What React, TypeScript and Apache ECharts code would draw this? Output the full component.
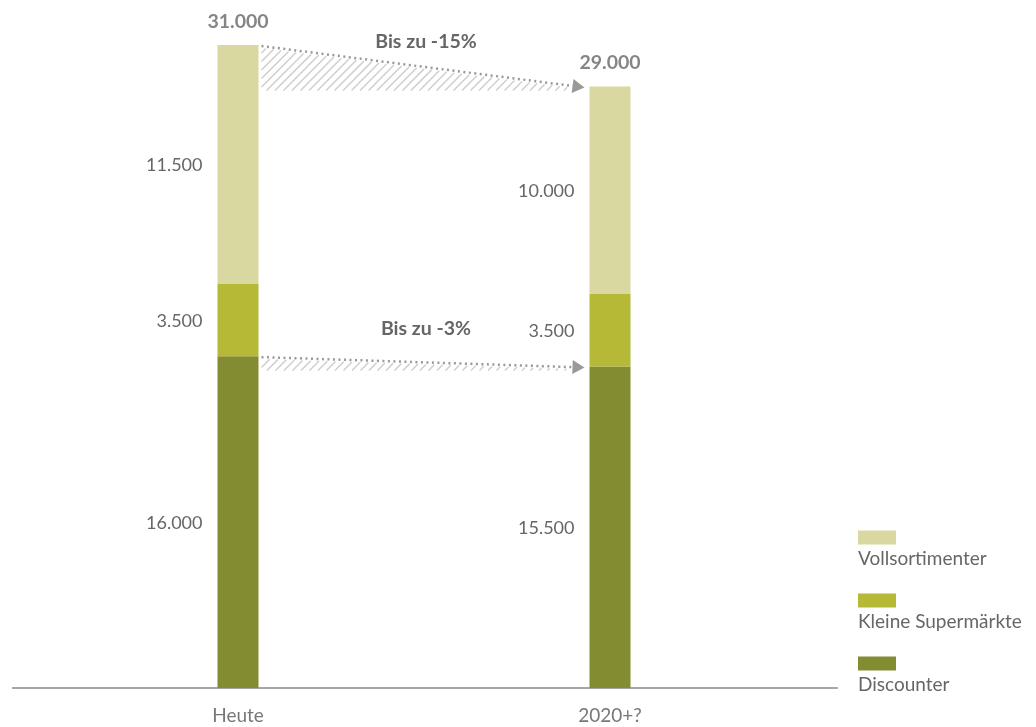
import React, { useEffect, useRef } from "react";
import * as echarts from "echarts";

const categories = ["Heute", "2020+?"];
const discounter = [16000, 15500];
const kleineSupermaerkte = [3500, 3500];
const vollsortimenter = [11500, 10000];
const totals = [31000, 29000];
const seriesNames = ["Vollsortimenter", "Kleine Supermärkte", "Discounter"];
const seriesColors = ["#d9d8a0", "#b5b935", "#838c31"];
const arrowLabels = ["Bis zu -15%", "Bis zu -3%"];

const FONT = "Lato";
const fmt = (v: number) => String(v).replace(/\B(?=(\d{3})+(?!\d))/g, ".");

const BAR_W = 41;

export default function App() {
  const ref = useRef<HTMLDivElement>(null);
  useEffect(() => {
    if (!ref.current) return;
    const chart = echarts.init(ref.current, null, { renderer: "svg" });
    const segLabel = {
      show: true,
      position: "left",
      distance: 15,
      fontFamily: FONT,
      fontSize: 18,
      color: "#666",
      formatter: (p: any) => fmt(p.value),
    };
    const option: any = {
      animation: false,
      textStyle: { fontFamily: FONT },
      grid: { left: 52, right: 240, top: 45, bottom: 39 },
      xAxis: {
        type: "category",
        data: categories,
        axisLine: { show: false },
        axisTick: { show: false },
        axisLabel: { fontFamily: FONT, fontSize: 19, color: "#777", margin: 17 },
      },
      yAxis: { type: "value", min: 0, max: 31000, show: false },
      legend: {
        data: seriesNames,
        orient: "vertical",
        left: 858,
        top: 526,
        padding: 0,
        itemWidth: 38,
        itemHeight: 14,
        itemGap: 22,
        icon: "rect",
        selectedMode: false,
        formatter: (name: string) => `{gap| }\n{t|${name}}`,
        textStyle: {
          fontFamily: FONT,
          fontSize: 19,
          color: "#666",
          padding: [0, 0, 0, -43],
          rich: {
            gap: { fontSize: 1, lineHeight: 40 },
            t: { fontFamily: FONT, fontSize: 19, color: "#666", lineHeight: 22 },
          },
        },
      },
      series: [
        {
          name: "Discounter",
          type: "bar",
          stack: "total",
          barWidth: BAR_W,
          data: discounter,
          itemStyle: { color: seriesColors[2] },
          label: segLabel,
        },
        {
          name: "Kleine Supermärkte",
          type: "bar",
          stack: "total",
          barWidth: BAR_W,
          data: kleineSupermaerkte,
          itemStyle: { color: seriesColors[1] },
          label: segLabel,
        },
        {
          name: "Vollsortimenter",
          type: "bar",
          stack: "total",
          barWidth: BAR_W,
          data: vollsortimenter,
          itemStyle: { color: seriesColors[0] },
          label: segLabel,
        },
        {
          name: "Gesamt",
          type: "scatter",
          data: totals,
          symbol: "rect",
          symbolSize: 1,
          silent: true,
          itemStyle: { color: "rgba(0,0,0,0)" },
          label: {
            show: true,
            position: "top",
            distance: 14,
            fontFamily: FONT,
            fontSize: 19.5,
            fontWeight: "bold",
            color: "#666",
            formatter: (p: any) => fmt(p.value),
          },
        },
      ],
    };
    chart.setOption(option);

    const px = (i: number, v: number) =>
      chart.convertToPixel({ gridIndex: 0 }, [i, v]) as number[];

    const elements: any[] = [];
    // baseline
    const base = px(0, 0);
    elements.push({
      type: "line",
      shape: { x1: 12, y1: base[1], x2: 838, y2: base[1] },
      style: { stroke: "#a6a6a6", lineWidth: 2 },
      silent: true,
    });

    const arrowDefs = [
      { from: totals[0], to: totals[1], label: arrowLabels[0], labelDy: -6 },
      { from: discounter[0], to: discounter[1], label: arrowLabels[1], labelDy: -30 },
    ];

    const clipLine = (poly: number[][], c: number) => {
      const pts: number[][] = [];
      for (let k = 0; k < poly.length; k++) {
        const P = poly[k];
        const Q = poly[(k + 1) % poly.length];
        const fP = P[0] + P[1] - c;
        const fQ = Q[0] + Q[1] - c;
        if ((fP <= 0 && fQ > 0) || (fP > 0 && fQ <= 0)) {
          const t = fP / (fP - fQ);
          pts.push([P[0] + t * (Q[0] - P[0]), P[1] + t * (Q[1] - P[1])]);
        }
      }
      if (pts.length < 2) return null;
      pts.sort((a, b) => a[0] - b[0]);
      return [pts[0], pts[pts.length - 1]];
    };

    arrowDefs.forEach((a) => {
      const p0 = px(0, a.from);
      const p1 = px(1, a.to);
      const sx = p0[0] + BAR_W / 2 + 3;
      const sy = p0[1] + 1;
      const tx = p1[0] - BAR_W / 2 - 5;
      const ty = p1[1] + 1;
      const dx = tx - sx;
      const dy = ty - sy;
      const len = Math.sqrt(dx * dx + dy * dy);
      const ux = dx / len;
      const uy = dy / len;
      const headLen = 12;
      const headHalf = 7;
      const bx = tx - ux * headLen;
      const by = ty - uy * headLen;

      // hatch area
      const lineY = (x: number) => sy + ((x - sx) * dy) / dx;
      const yb = ty + 3;
      let xb = tx - 15;
      if (dy > 0 && lineY(xb) > yb) {
        xb = sx + ((yb - sy) * dx) / dy;
      }
      const poly = [
        [sx, sy + 2],
        [xb, lineY(xb) + 2],
        [xb, yb],
        [sx, yb],
      ];
      let cMin = Infinity;
      let cMax = -Infinity;
      poly.forEach((p) => {
        cMin = Math.min(cMin, p[0] + p[1]);
        cMax = Math.max(cMax, p[0] + p[1]);
      });
      const step = 8.5;
      for (let c = Math.ceil(cMin / step) * step; c <= cMax; c += step) {
        const seg = clipLine(poly, c);
        if (!seg) continue;
        elements.push({
          type: "line",
          silent: true,
          shape: { x1: seg[0][0], y1: seg[0][1], x2: seg[1][0], y2: seg[1][1] },
          style: { stroke: "#cfcfcf", lineWidth: 1.5 },
        });
      }

      // dotted line
      elements.push({
        type: "line",
        silent: true,
        shape: { x1: sx, y1: sy, x2: bx, y2: by },
        style: { stroke: "#999", lineWidth: 2.5, lineDash: [2, 3.5] },
      });
      // arrow head
      elements.push({
        type: "polygon",
        silent: true,
        shape: {
          points: [
            [tx, ty],
            [bx - uy * headHalf, by + ux * headHalf],
            [bx + uy * headHalf, by - ux * headHalf],
          ],
        },
        style: { fill: "#999" },
      });
      // label
      elements.push({
        type: "text",
        silent: true,
        x: (p0[0] + p1[0]) / 2 + 2,
        y: sy + a.labelDy,
        style: {
          text: a.label,
          fontFamily: FONT,
          fontSize: 19.5,
          fontWeight: "bold",
          fill: "#666",
          align: "center",
          verticalAlign: "middle",
        },
      });
    });

    chart.setOption({ graphic: { elements } });

    return () => chart.dispose();
  }, []);
  return (
    <div
      ref={ref}
      style={{ position: "fixed", left: 0, top: 0, width: 1036, height: 727 }}
    />
  );
}
